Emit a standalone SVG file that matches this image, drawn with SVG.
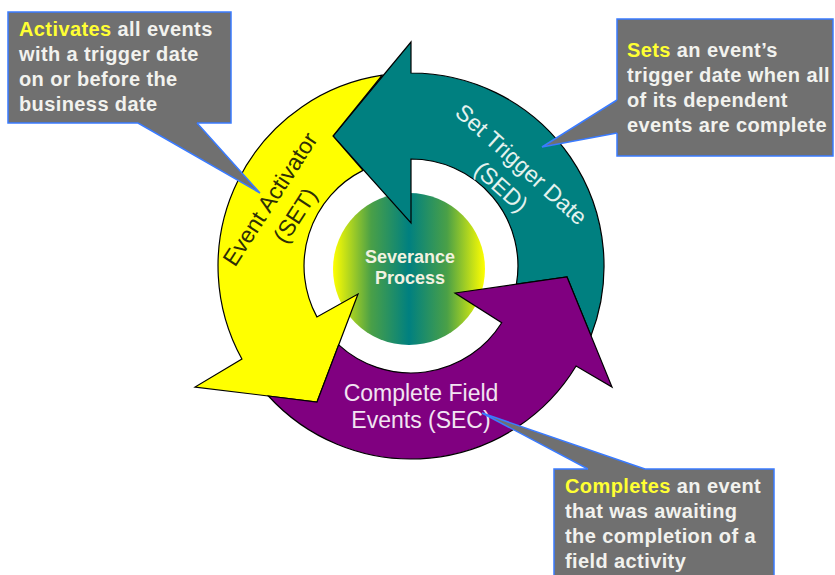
<svg xmlns="http://www.w3.org/2000/svg" width="835" height="575" viewBox="0 0 835 575">
<defs>
<linearGradient id="coreGrad" x1="0" y1="0" x2="1" y2="0">
<stop offset="0" stop-color="#ffff00"/>
<stop offset="0.25" stop-color="#4aa047"/>
<stop offset="0.5" stop-color="#008080"/>
<stop offset="0.75" stop-color="#4aa047"/>
<stop offset="1" stop-color="#ffff00"/>
</linearGradient>
<style>
.arrow{stroke:#000;stroke-width:1.2;stroke-linejoin:miter}
.lbl{font-family:"Liberation Sans",Arial,sans-serif;font-size:23px;text-anchor:middle}
.box{fill:#707070;stroke:#3a7bff;stroke-width:1.5}
.wfill{fill:#707070;stroke:none}
.wedge{fill:none;stroke:#3a7bff;stroke-width:1.5;stroke-linejoin:miter}
.ct{font-family:"Liberation Sans",Arial,sans-serif;font-size:20px;font-weight:bold;fill:#f2f2ee;letter-spacing:0.4px}
.hl{fill:#ffff33}
</style>
</defs>
<rect width="835" height="575" fill="#fff"/>
<g id="node-center">
<circle cx="409" cy="269" r="76" fill="url(#coreGrad)"/>
</g>
<g id="node-sed">
<path class="arrow" fill="#008080" d="M411,73 A193,193 0 0 1 591,335.7 L567,277 L516.4,284.2 A107,107 0 0 0 411,159 L411,223 L333,136 L411,42 Z"/>
<text class="lbl" fill="#e4f2ee" transform="translate(516,170.4) rotate(42)"><tspan x="0" y="0">Set Trigger Date</tspan><tspan x="0" y="30">(SED)</tspan></text>
</g>
<g id="node-set">
<path class="arrow" fill="#ffff00" d="M382.2,75.2 A193,193 0 0 0 241.9,359 L195,387 L317,402 L358,294 L316.9,316.9 A107,107 0 0 1 363,170.4 L333,136 Z"/>
<text class="lbl" fill="#2e2e06" transform="translate(276.7,203.4) rotate(-57)"><tspan x="0" y="0">Event Activator</tspan><tspan x="0" y="30">(SET)</tspan></text>
</g>
<g id="node-sec">
<path class="arrow" fill="#800080" d="M268.4,396 L317,402 L338.7,344.9 A107,107 0 0 0 501.7,322.7 L455,293 L567,277 L612,387 L576.1,366 A193,193 0 0 1 268.4,396 Z"/>
<text class="lbl" fill="#f2e4f2"><tspan x="421" y="401">Complete Field</tspan><tspan x="421" y="428">Events (SEC)</tspan></text>
</g>
<g id="node-center-label">
<text font-family="'Liberation Sans',Arial,sans-serif" font-size="18" font-weight="bold" fill="#f2f2e0" text-anchor="middle"><tspan x="410" y="263">Severance</tspan><tspan x="410" y="284">Process</tspan></text>
</g>
<g id="callout-activates">
<rect class="box" x="8" y="12" width="223" height="111"/>
</g>
<g id="callout-sets">
<rect class="box" x="617" y="19" width="216" height="137"/>
</g>
<g id="callout-completes">
<rect class="box" x="554" y="469" width="220" height="112"/>
</g>
<g id="connectors">
<path class="wfill" d="M138,123 L260,193 L197,123 L197,119 L138,119 Z"/>
<path class="wedge" d="M138,123 L260,193 L197,123"/>
<path class="wfill" d="M617,100 L542,147 L617,133 L621,133 L621,100 Z"/>
<path class="wedge" d="M617,100 L542,147 L617,133"/>
<path class="wfill" d="M588,469 L482,413 L645,469 L645,473 L588,473 Z"/>
<path class="wedge" d="M588,469 L482,413 L645,469"/>
</g>
<g id="callout-texts">
<text class="ct"><tspan x="19" y="36"><tspan class="hl">Activates</tspan> all events</tspan><tspan x="19" y="61">with a trigger date</tspan><tspan x="19" y="86">on or before the</tspan><tspan x="19" y="111">business date</tspan></text>
<text class="ct"><tspan x="627" y="57"><tspan class="hl">Sets</tspan> an event’s</tspan><tspan x="627" y="82">trigger date when all</tspan><tspan x="627" y="107">of its dependent</tspan><tspan x="627" y="132">events are complete</tspan></text>
<text class="ct"><tspan x="565" y="493"><tspan class="hl">Completes</tspan> an event</tspan><tspan x="565" y="518">that was awaiting</tspan><tspan x="565" y="543">the completion of a</tspan><tspan x="565" y="568">field activity</tspan></text>
</g>
</svg>
